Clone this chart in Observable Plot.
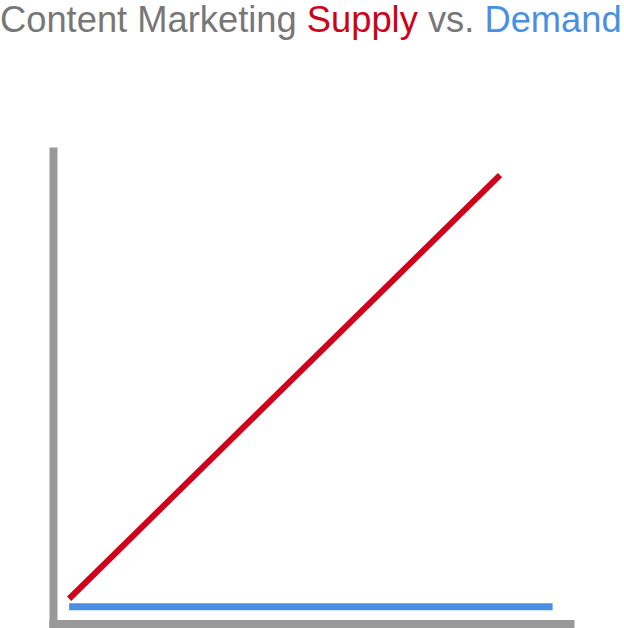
<!DOCTYPE html>
<html>
<head>
<meta charset="utf-8">
<script src="https://cdn.jsdelivr.net/npm/d3@7"></script>
<script src="https://cdn.jsdelivr.net/npm/@observablehq/plot@0.6"></script>
<style>
  html, body { margin: 0; padding: 0; background: #fff; }
  #wrap { position: relative; width: 624px; height: 628px; overflow: hidden; }
  #title { position: absolute; left: 0; top: 0; white-space: nowrap;
    font-family: "Liberation Sans", Arial, Helvetica, sans-serif; font-size: 35px; line-height: 40px; color: #777; }
  #chart { position: absolute; left: 0; top: 0; }
</style>
</head>
<body>
<div id="wrap">
  <div id="chart"></div>
  <div id="title"><span>Content Marketing </span><span style="color:#d0021b">Supply</span><span> vs. </span><span style="color:#4a90e2">Demand</span></div>
</div>
<script>
// Data (arbitrary units)
const seriesNames = ["Supply", "Demand"];
const supplyX = [3, 85.7];
const supplyY = [5.3, 94.2];
const demandX = [3, 95.8];
const demandY = [3.6, 3.6];

const supply = supplyX.map((x, i) => ({x, y: supplyY[i], s: seriesNames[0]}));
const demand = demandX.map((x, i) => ({x, y: demandY[i], s: seriesNames[1]}));

// axis frame extents
const yAxis = [{x: 0, y: -1}, {x: 0, y: 100}];
const xAxis = [{x: -0.8, y: 0}, {x: 100, y: 0}];

const chart = Plot.plot({
  width: 624,
  height: 628,
  marginLeft: 53,
  marginRight: 50,
  marginTop: 147,
  marginBottom: 4.5,
  x: {domain: [0, 100], axis: null},
  y: {domain: [0, 100], axis: null},
  style: {background: "#fff", overflow: "visible"},
  marks: [
    Plot.line(yAxis, {x: "x", y: "y", stroke: "#999", strokeWidth: 8, strokeLinecap: "butt", clip: false}),
    Plot.line(xAxis, {x: "x", y: "y", stroke: "#999", strokeWidth: 8, strokeLinecap: "butt", clip: false}),
    Plot.line(demand, {x: "x", y: "y", stroke: "#4a90e2", strokeWidth: 7, strokeLinecap: "butt"}),
    Plot.line(supply, {x: "x", y: "y", stroke: "#d0021b", strokeWidth: 6, strokeLinecap: "butt"})
  ]
});
document.getElementById("chart").appendChild(chart);

// fit title to width
const t = document.getElementById("title");
const w = t.getBoundingClientRect().width;
const target = 622;
t.style.fontSize = (35 * target / w) + "px";
</script>
</body>
</html>
